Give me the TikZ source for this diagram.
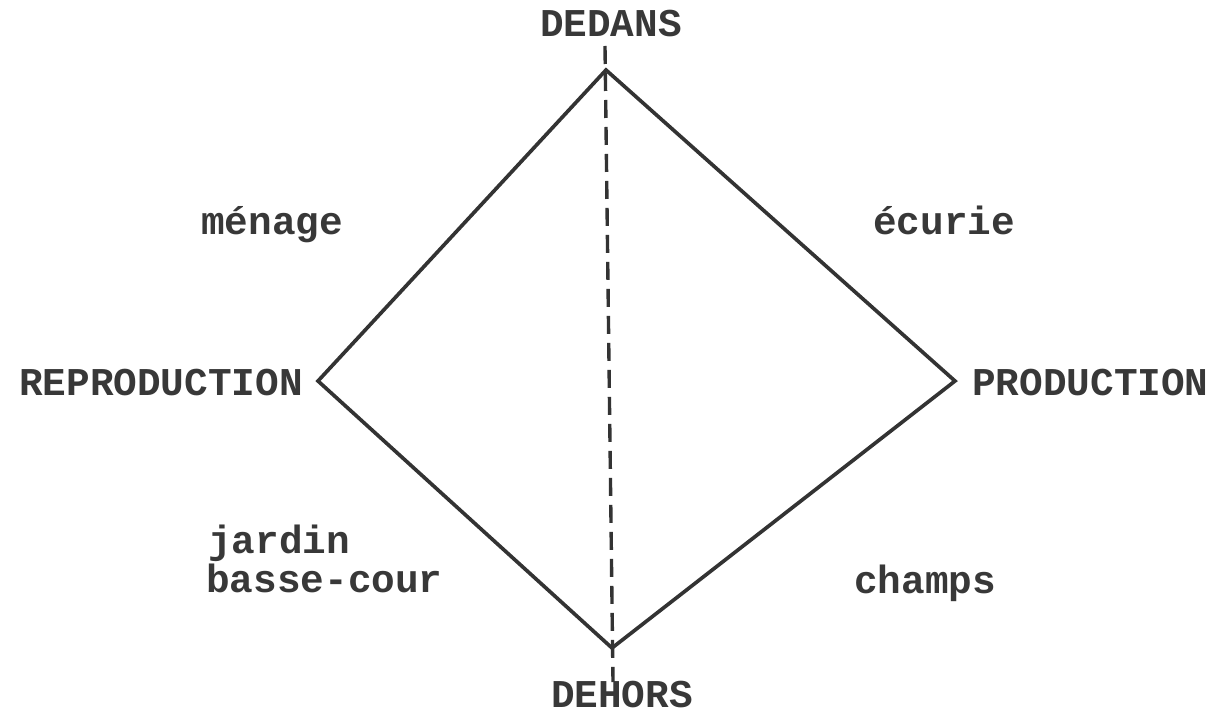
\documentclass[tikz,border=0pt]{standalone}
\usepackage{fontspec}
\setmonofont{Liberation Mono}
\usepackage{tikz}

\begin{document}
\begin{tikzpicture}[x=0.025cm,y=-0.025cm,
  lab/.style={inner sep=0pt,text=black!78,font=\fontsize{28}{39}\selectfont\ttfamily\bfseries},
  side/.style={draw=black!80,line width=2.6pt,line join=miter}]
\useasboundingbox (0,0) rectangle (1216,715);
\coordinate (top) at (606,70);
\coordinate (right) at (955,381);
\coordinate (bottom) at (612,648);
\coordinate (left) at (318,381);
\coordinate (dtop) at (605,46);
\coordinate (dbot) at (613,682);
\draw [side] (top) -- (right) -- (bottom) -- (left) -- cycle;
\draw [draw=black!80,line width=2.4pt,dash pattern=on 12.8pt off 6.4pt] (dtop) -- (dbot);
\node [lab,anchor=base] (dedans) at (611,37) {DEDANS};
\node [lab,anchor=base] (dehors) at (622,707) {DEHORS};
\node [lab,anchor=base east] (repro) at (303,395) {REPRODUCTION};
\node [lab,anchor=base west] (prod) at (972,395) {PRODUCTION};
\node [lab,anchor=base west] (menage) at (201,235) {ménage};
\node [lab,anchor=base west] (ecurie) at (873,235) {écurie};
\node [lab,anchor=base west] (jardin) at (208,553) {jardin};
\node [lab,anchor=base west] (basse) at (206,592) {basse-cour};
\node [lab,anchor=base west] (champs) at (854,593) {champs};
\end{tikzpicture}
\end{document}
